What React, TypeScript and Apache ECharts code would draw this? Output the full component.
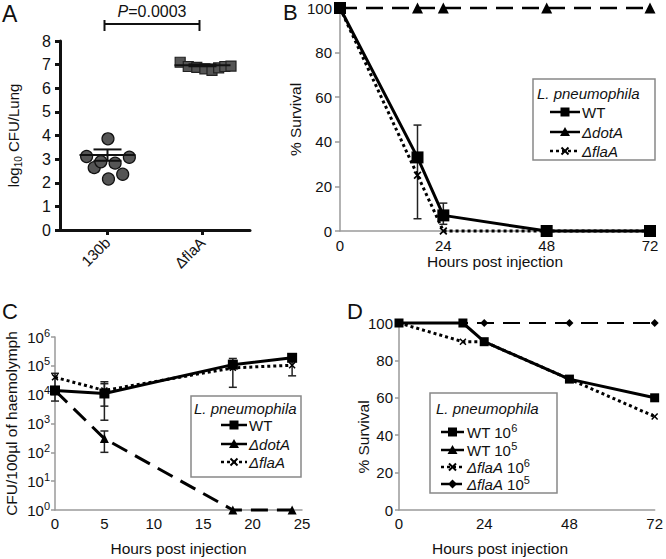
import React, { useEffect, useRef } from 'react';
import * as echarts from 'echarts';

const FONT = 'Liberation Sans, Arial, Helvetica, sans-serif';

// ---------- Panel A ----------
const aCategories = ['130b', 'ΔflaA'];
const aCenters = [1, 3];
const aCtrlValues = [3.86, 3.11, 3.08, 2.64, 2.89, 2.83, 2.36, 2.16];
const aCtrlJitter = [0.01, -0.44, 0.46, -0.28, -0.14, 0.16, 0.32, 0.02];
const aFlaValues = [7.1, 6.92, 6.88, 6.82, 6.76, 6.86, 6.92, 6.94];
const aFlaJitter = [-0.47, -0.3, -0.12, 0.05, 0.2, 0.34, 0.47, 0.6];
const aMeans = [3.17, 6.97];
const aSem = [0.24, 0.04];
const aPValue = '0.0003';
const aBracketY = 8.72;

// ---------- Panel B ----------
const bHours = [0, 18, 24, 48, 72];
const bWT = [100, 33, 7, 0, 0];
const bDotA = [100, 100, 100, 100, 100];
const bFlaA = [100, 25, 0, 0, 0];
const bErrHours = [18, 24];
const bErrLow = [5.5, 3];
const bErrHigh = [47.5, 12.5];
const bLegend = ['WT', '{i|ΔdotA}', '{i|ΔflaA}'];

// ---------- Panel C ----------
const cHours = [0, 5, 18, 24];
const cWT = [1.4e4, 1.1e4, 1.1e5, 1.9e5];
const cDotA = [1.4e4, 300, 1, 1];
const cFlaA = [4e4, 1.4e4, 8.5e4, 1.05e5];
const cErrHours = [0, 5, 5, 5, 18, 24];
const cErrLow = [6e3, 4e3, 1.3e3, 1e2, 1.8e4, 4.5e4];
const cErrHigh = [5.5e4, 2.8e4, 2.4e4, 5.5e2, 1.8e5, 2.3e5];
const cLegend = ['WT', '{i|ΔdotA}', '{i|ΔflaA}'];

// ---------- Panel D ----------
const dHours = [0, 18, 24, 48, 72];
const dWT6 = [100, 100, 90, 70, 60];
const dWT5 = [100, 100, null, null, null];
const dFlaA6 = [100, 90, 90, 70, 50];
const dFlaA5 = [100, 100, 100, 100, 100];
const dLegend = ['WT 10{sup|6}', 'WT 10{sup|5}', '{i|ΔflaA} 10{sup|6}', '{i|ΔflaA} 10{sup|5}'];

const legendTitle = 'L. pneumophila';
const xName = 'Hours post injection';
const survivalName = '% Survival';

const X_PATH = 'path://M0,1.5L1.5,0L5,3.5L8.5,0L10,1.5L6.5,5L10,8.5L8.5,10L5,6.5L1.5,10L0,8.5L3.5,5Z';
const DOTTED = [3, 3];
const DASHED = [17, 9];

const richText = {
  i: { fontStyle: 'italic', fontSize: 15, fontFamily: FONT, color: '#111' },
  sup: { fontSize: 11, fontFamily: FONT, color: '#111', verticalAlign: 'top', lineHeight: 20 },
};

function lineSeries(name: string, g: number, xs: number[], ys: (number | null)[], o: any) {
  const data = xs.map((x, i) => [x, ys[i]]).filter((d) => d[1] !== null);
  return {
    type: 'line',
    name,
    xAxisIndex: g,
    yAxisIndex: g,
    data,
    symbol: o.symbol,
    symbolSize: o.size,
    showAllSymbol: true,
    clip: false,
    z: o.z ?? 3,
    lineStyle: { color: '#000', width: o.width ?? 2.5, type: o.type ?? 'solid' },
    itemStyle: { color: '#000', borderColor: '#000', borderWidth: 0 },
    emphasis: { disabled: true },
  };
}

function errorBars(g: number, xs: number[], lows: number[], highs: number[], cap: number) {
  return {
    type: 'custom',
    xAxisIndex: g,
    yAxisIndex: g,
    data: xs.map((x, i) => [x, lows[i], highs[i]]),
    encode: { x: 0, y: [1, 2] },
    clip: false,
    z: 2,
    silent: true,
    renderItem: (_p: any, api: any) => {
      const x = api.value(0);
      const lo = api.coord([x, api.value(1)]);
      const hi = api.coord([x, api.value(2)]);
      const st = { stroke: '#222', lineWidth: 1.5 };
      return {
        type: 'group',
        children: [
          { type: 'line', shape: { x1: lo[0], y1: lo[1], x2: hi[0], y2: hi[1] }, style: st },
          { type: 'line', shape: { x1: lo[0] - cap, y1: lo[1], x2: lo[0] + cap, y2: lo[1] }, style: st },
          { type: 'line', shape: { x1: hi[0] - cap, y1: hi[1], x2: hi[0] + cap, y2: hi[1] }, style: st },
        ],
      };
    },
  };
}

function symbolGraphic(kind: string, cx: number, cy: number) {
  const f = { fill: '#000' };
  if (kind === 'square') return [{ type: 'rect', shape: { x: cx - 4.5, y: cy - 4.5, width: 9, height: 9 }, style: f }];
  if (kind === 'triangle')
    return [{ type: 'polygon', shape: { points: [[cx, cy - 5], [cx + 5, cy + 4], [cx - 5, cy + 4]] }, style: f }];
  if (kind === 'diamond')
    return [{ type: 'polygon', shape: { points: [[cx, cy - 4.5], [cx + 4.5, cy], [cx, cy + 4.5], [cx - 4.5, cy]] }, style: f }];
  const s = { stroke: '#000', lineWidth: 2 };
  return [
    { type: 'line', shape: { x1: cx - 3.5, y1: cy - 3.5, x2: cx + 3.5, y2: cy + 3.5 }, style: s },
    { type: 'line', shape: { x1: cx - 3.5, y1: cy + 3.5, x2: cx + 3.5, y2: cy - 3.5 }, style: s },
  ];
}

function legendGraphic(
  box: [number, number, number, number],
  titleX: number,
  titleY: number,
  entries: { label: string; y: number; line: string; sym: string }[],
  lx1: number,
  lx2: number,
  tx: number
) {
  const els: any[] = [
    { type: 'rect', shape: { x: box[0], y: box[1], width: box[2], height: box[3] }, style: { fill: '#fff', stroke: '#888', lineWidth: 1.5 }, z: 10 },
    {
      type: 'text', x: titleX, y: titleY, z: 11,
      style: { text: legendTitle, fontFamily: FONT, fontSize: 15, fontStyle: 'italic', fill: '#111', verticalAlign: 'middle', align: 'left' },
    },
  ];
  entries.forEach((e) => {
    const dash = e.line === 'dotted' ? DOTTED : e.line === 'dashed' ? [8, 5] : null;
    els.push({
      type: 'line', z: 11,
      shape: { x1: lx1, y1: e.y, x2: lx2, y2: e.y },
      style: { stroke: '#000', lineWidth: e.line === 'dotted' ? 2.5 : 2.5, lineDash: dash },
    });
    symbolGraphic(e.sym, (lx1 + lx2) / 2, e.y).forEach((s: any) => els.push({ ...s, z: 12 }));
    els.push({
      type: 'text', x: tx, y: e.y, z: 11,
      style: { text: e.label, rich: richText, fontFamily: FONT, fontSize: 15, fill: '#111', verticalAlign: 'middle', align: 'left' },
    });
  });
  return els;
}

const grayLine = { show: true, onZero: false, lineStyle: { color: '#9a9a9a', width: 1.5 } };
const labelStyle = { fontFamily: FONT, fontSize: 15, color: '#111' };

function buildOption() {
  const series: any[] = [];

  // A
  series.push({
    type: 'scatter', xAxisIndex: 0, yAxisIndex: 0,
    data: aCtrlValues.map((v, i) => [aCenters[0] + aCtrlJitter[i], v]),
    symbol: 'circle', symbolSize: 12,
    itemStyle: { color: '#555', borderColor: '#111', borderWidth: 1.2, opacity: 1 }, z: 3,
  });
  series.push({
    type: 'scatter', xAxisIndex: 0, yAxisIndex: 0,
    data: aFlaValues.map((v, i) => [aCenters[1] + aFlaJitter[i], v]),
    symbol: 'rect', symbolSize: 10,
    itemStyle: { color: '#555', borderColor: '#222', borderWidth: 1.2, opacity: 1 }, z: 3,
  });
  series.push({
    type: 'custom', xAxisIndex: 0, yAxisIndex: 0, clip: false, z: 4, silent: true,
    data: aMeans.map((m, i) => [aCenters[i], m, aSem[i]]),
    encode: { x: 0, y: 1 },
    renderItem: (_p: any, api: any) => {
      const x = api.value(0), m = api.value(1), s = api.value(2);
      const c = api.coord([x, m]);
      const hi = api.coord([x, m + s]);
      const lo = api.coord([x, m - s]);
      const st = { stroke: '#111', lineWidth: 2 };
      return {
        type: 'group',
        children: [
          { type: 'line', shape: { x1: c[0] - 28, y1: c[1], x2: c[0] + 28, y2: c[1] }, style: st },
          { type: 'line', shape: { x1: hi[0], y1: hi[1], x2: lo[0], y2: lo[1] }, style: st },
          { type: 'line', shape: { x1: hi[0] - 14, y1: hi[1], x2: hi[0] + 14, y2: hi[1] }, style: st },
          { type: 'line', shape: { x1: lo[0] - 14, y1: lo[1], x2: lo[0] + 14, y2: lo[1] }, style: st },
        ],
      };
    },
  });
  series.push({
    type: 'custom', xAxisIndex: 0, yAxisIndex: 0, clip: false, z: 4, silent: true,
    data: [[aCenters[0], aCenters[1], aBracketY]],
    encode: { x: [0, 1], y: 2 },
    renderItem: (_p: any, api: any) => {
      const l = api.coord([api.value(0), api.value(2)]);
      const r = api.coord([api.value(1), api.value(2)]);
      const st = { stroke: '#111', lineWidth: 2 };
      return {
        type: 'group',
        children: [
          { type: 'line', shape: { x1: l[0] - 3, y1: l[1], x2: r[0] - 3, y2: r[1] }, style: st },
          { type: 'line', shape: { x1: l[0] - 3, y1: l[1] - 4, x2: l[0] - 3, y2: l[1] + 7 }, style: st },
          { type: 'line', shape: { x1: r[0] - 3, y1: r[1] - 4, x2: r[0] - 3, y2: r[1] + 7 }, style: st },
          {
            type: 'text', x: (l[0] + r[0]) / 2 - 3, y: l[1] - 4,
            style: {
              text: '{i|P}=' + aPValue, rich: { i: { fontStyle: 'italic', fontSize: 16, fontFamily: FONT, fill: '#111' } },
              fontSize: 16, fontFamily: FONT, fill: '#111', align: 'center', verticalAlign: 'bottom',
            },
          },
        ],
      };
    },
  });

  // B
  series.push(errorBars(1, bErrHours, bErrLow, bErrHigh, 4));
  series.push(lineSeries('ΔdotA', 1, bHours, bDotA, { symbol: 'triangle', size: 11, type: DASHED, z: 3 }));
  series.push(lineSeries('ΔflaA', 1, bHours, bFlaA, { symbol: X_PATH, size: 8, type: DOTTED, width: 3, z: 4 }));
  series.push(lineSeries('WT', 1, bHours, bWT, { symbol: 'rect', size: 12, width: 3, z: 5 }));

  // C
  series.push(errorBars(2, cErrHours, cErrLow, cErrHigh, 4));
  series.push(lineSeries('ΔdotA', 2, cHours, cDotA, { symbol: 'triangle', size: 9, type: DASHED, width: 3, z: 3 }));
  series.push(lineSeries('ΔflaA', 2, cHours, cFlaA, { symbol: X_PATH, size: 7, type: DOTTED, width: 3, z: 4 }));
  series.push(lineSeries('WT', 2, cHours, cWT, { symbol: 'rect', size: 10, width: 3, z: 5 }));

  // D
  series.push(lineSeries('ΔflaA 10^5', 3, dHours, dFlaA5, { symbol: 'diamond', size: 8, type: DASHED, width: 2, z: 3 }));
  series.push(lineSeries('WT 10^5', 3, dHours, dWT5, { symbol: 'triangle', size: 8, width: 2, z: 3 }));
  series.push(lineSeries('ΔflaA 10^6', 3, dHours, dFlaA6, { symbol: X_PATH, size: 7, type: DOTTED, width: 3, z: 4 }));
  series.push(lineSeries('WT 10^6', 3, dHours, dWT6, { symbol: 'rect', size: 9, width: 3, z: 5 }));

  const graphic: any[] = [
    { type: 'text', x: 2, y: 2, style: { text: 'A', fontFamily: FONT, fontSize: 23, fill: '#111' } },
    { type: 'text', x: 283, y: 1, style: { text: 'B', fontFamily: FONT, fontSize: 22, fill: '#111' } },
    { type: 'text', x: 2, y: 300, style: { text: 'C', fontFamily: FONT, fontSize: 22, fill: '#111' } },
    { type: 'text', x: 347, y: 300, style: { text: 'D', fontFamily: FONT, fontSize: 22, fill: '#111' } },
    {
      type: 'text', x: 500, y: 548,
      style: { text: xName, fontFamily: FONT, fontSize: 15.5, fill: '#111', align: 'center', verticalAlign: 'middle' },
    },
    {
      type: 'text', x: 363, y: 437, rotation: Math.PI / 2,
      style: { text: survivalName, fontFamily: FONT, fontSize: 15.5, fill: '#111', align: 'center', verticalAlign: 'middle' },
    },
    ...legendGraphic([533, 79, 122, 81], 537, 93, [
      { label: bLegend[0], y: 112, line: 'solid', sym: 'square' },
      { label: bLegend[1], y: 132, line: 'solid', sym: 'triangle' },
      { label: bLegend[2], y: 151, line: 'dotted', sym: 'x' },
    ], 550, 580, 582),
    ...legendGraphic([191, 396, 110, 81], 194, 408, [
      { label: cLegend[0], y: 425, line: 'solid', sym: 'square' },
      { label: cLegend[1], y: 444, line: 'solid', sym: 'triangle' },
      { label: cLegend[2], y: 462, line: 'dotted', sym: 'x' },
    ], 221, 247, 249),
    ...legendGraphic([430, 393, 127, 100], 436, 408, [
      { label: dLegend[0], y: 432, line: 'solid', sym: 'square' },
      { label: dLegend[1], y: 450, line: 'solid', sym: 'triangle' },
      { label: dLegend[2], y: 467, line: 'dotted', sym: 'x' },
      { label: dLegend[3], y: 484, line: 'dashed', sym: 'diamond' },
    ], 441, 464, 467),
  ];

  return {
    animation: false,
    backgroundColor: '#fff',
    textStyle: { fontFamily: FONT },
    grid: [
      { left: 60, top: 41, width: 190, height: 189 },
      { left: 340, top: 8, width: 310, height: 223 },
      { left: 55, top: 337, width: 247, height: 173 },
      { left: 399, top: 323, width: 256, height: 187 },
    ],
    xAxis: [
      {
        type: 'value', gridIndex: 0, min: 0, max: 4,
        axisLine: { show: true, onZero: false, lineStyle: { color: '#111', width: 3 } },
        axisTick: { show: true, customValues: aCenters, length: 5, lineStyle: { color: '#111', width: 3 } },
        axisLabel: {
          customValues: aCenters, rotate: 45, margin: 10, ...labelStyle,
          formatter: (v: number) => aCategories[aCenters.indexOf(v)] ?? '',
        },
        splitLine: { show: false },
      },
      {
        type: 'value', gridIndex: 1, min: 0, max: 72, interval: 24,
        axisLine: grayLine, axisTick: { show: false },
        axisLabel: { margin: 7, ...labelStyle },
        splitLine: { show: false },
        name: xName, nameLocation: 'middle', nameGap: 20,
        nameTextStyle: { fontFamily: FONT, fontSize: 15.5, color: '#111' },
      },
      {
        type: 'value', gridIndex: 2, min: 0, max: 25, interval: 5,
        axisLine: grayLine, axisTick: { show: false },
        axisLabel: { margin: 6, ...labelStyle },
        splitLine: { show: false },
        name: xName, nameLocation: 'middle', nameGap: 30,
        nameTextStyle: { fontFamily: FONT, fontSize: 15.5, color: '#111' },
      },
      {
        type: 'value', gridIndex: 3, min: 0, max: 72, interval: 24,
        axisLine: grayLine, axisTick: { show: false },
        axisLabel: { margin: 6, ...labelStyle },
        splitLine: { show: false },
      },
    ],
    yAxis: [
      {
        type: 'value', gridIndex: 0, min: 0, max: 8, interval: 1,
        axisLine: { show: true, onZero: false, lineStyle: { color: '#111', width: 3 } },
        axisTick: { show: true, length: 5, lineStyle: { color: '#111', width: 3 } },
        axisLabel: { margin: 9, ...labelStyle, fontSize: 16 },
        splitLine: { show: false },
        name: 'log{sub|10} CFU/Lung', nameLocation: 'middle', nameGap: 37,
        nameTextStyle: {
          fontFamily: FONT, fontSize: 15, color: '#111',
          rich: { sub: { fontSize: 10, fontFamily: FONT, color: '#111', verticalAlign: 'bottom', lineHeight: 20 } },
        },
      },
      {
        type: 'value', gridIndex: 1, min: 0, max: 100, interval: 20,
        axisLine: grayLine, axisTick: { show: true, length: 5, lineStyle: { color: '#9a9a9a', width: 1.5 } },
        axisLabel: { margin: 8, ...labelStyle },
        splitLine: { show: false },
        name: survivalName, nameLocation: 'middle', nameGap: 36,
        nameTextStyle: { fontFamily: FONT, fontSize: 15.5, color: '#111' },
      },
      {
        type: 'log', logBase: 10, gridIndex: 2, min: 1, max: 1e6,
        axisLine: grayLine, axisTick: { show: true, length: 4, lineStyle: { color: '#9a9a9a', width: 1.5 } },
        axisLabel: {
          margin: 5, ...labelStyle,
          formatter: (v: number) => '10{sup|' + Math.round(Math.log10(v)) + '}',
          rich: { sup: { fontSize: 11, fontFamily: FONT, color: '#111', verticalAlign: 'top', lineHeight: 20 } },
        },
        splitLine: { show: false },
        name: 'CFU/100µl of haemolymph', nameLocation: 'middle', nameGap: 36,
        nameTextStyle: { fontFamily: FONT, fontSize: 15.5, color: '#111' },
      },
      {
        type: 'value', gridIndex: 3, min: 0, max: 100, interval: 20,
        axisLine: grayLine, axisTick: { show: true, length: 4, lineStyle: { color: '#9a9a9a', width: 1.5 } },
        axisLabel: { margin: 6, ...labelStyle },
        splitLine: { show: false },
      },
    ],
    series,
    graphic,
  };
}

export default function App() {
  const ref = useRef<HTMLDivElement>(null);
  useEffect(() => {
    if (!ref.current) return;
    const chart = echarts.init(ref.current, null, { renderer: 'svg' });
    chart.setOption(buildOption() as any);
    return () => chart.dispose();
  }, []);
  return (
    <div
      ref={ref}
      style={{ position: 'fixed', left: 0, top: 0, width: 666, height: 559, background: '#fff' }}
    />
  );
}
